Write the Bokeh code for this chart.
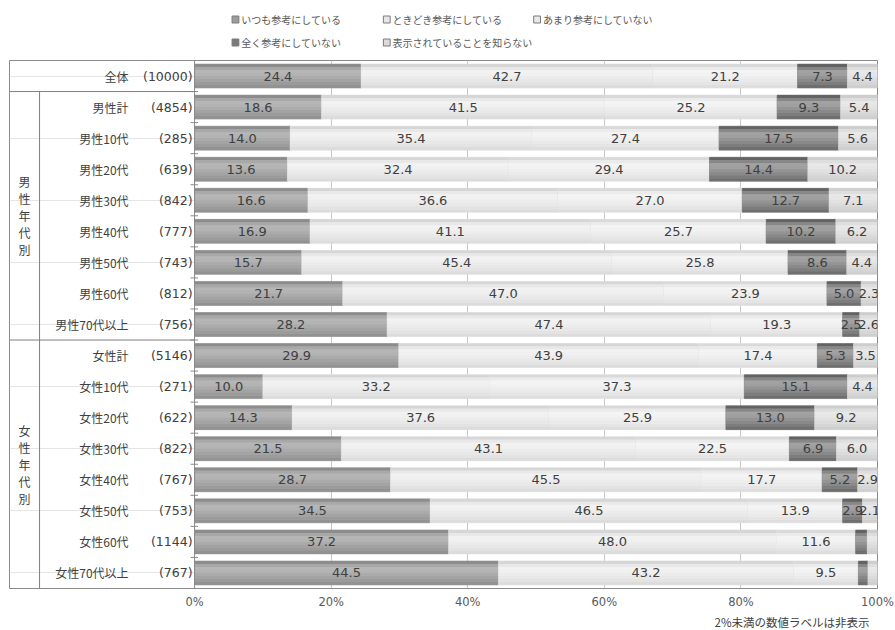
from bokeh.plotting import figure
from bokeh.models import Range1d, FixedTicker, PrintfTickFormatter, Span, Title
from bokeh.layouts import column
from bokeh.core.properties import value
from bokeh.embed import file_html
from bokeh.resources import INLINE

# ---------------- data ----------------
row_labels = ["全体", "男性計", "男性10代", "男性20代", "男性30代", "男性40代", "男性50代", "男性60代", "男性70代以上",
              "女性計", "女性10代", "女性20代", "女性30代", "女性40代", "女性50代", "女性60代", "女性70代以上"]
counts = [10000, 4854, 285, 639, 842, 777, 743, 812, 756,
          5146, 271, 622, 822, 767, 753, 1144, 767]
series_names = ["いつも参考にしている", "ときどき参考にしている", "あまり参考にしていない",
                "全く参考にしていない", "表示されていることを知らない"]
itsumo = [24.4, 18.6, 14.0, 13.6, 16.6, 16.9, 15.7, 21.7, 28.2,
          29.9, 10.0, 14.3, 21.5, 28.7, 34.5, 37.2, 44.5]
tokidoki = [42.7, 41.5, 35.4, 32.4, 36.6, 41.1, 45.4, 47.0, 47.4,
            43.9, 33.2, 37.6, 43.1, 45.5, 46.5, 48.0, 43.2]
amari = [21.2, 25.2, 27.4, 29.4, 27.0, 25.7, 25.8, 23.9, 19.3,
         17.4, 37.3, 25.9, 22.5, 17.7, 13.9, 11.6, 9.5]
mattaku = [7.3, 9.3, 17.5, 14.4, 12.7, 10.2, 8.6, 5.0, 2.5,
           5.3, 15.1, 13.0, 6.9, 5.2, 2.9, 1.7, 1.4]
shiranai = [4.4, 5.4, 5.6, 10.2, 7.1, 6.2, 4.4, 2.3, 2.6,
            3.5, 4.4, 9.2, 6.0, 2.9, 2.1, 1.5, 1.4]
group_labels = ["男性年代別", "女性年代別"]
x_ticks = [0, 20, 40, 60, 80, 100]
note_text = "2%未満の数値ラベルは非表示"
label_threshold = 2.0

series = [itsumo, tokidoki, amari, mattaku, shiranai]

# ---------------- styles ----------------
gradients = [
    ["#8c8c8c", "#a8a8a8", "#b6b6b6", "#b3b3b3", "#ababab", "#a3a3a3", "#9b9b9b", "#929292"],
    ["#d6d6d6", "#e8e8e8", "#f2f2f2", "#f0f0f0", "#ececec", "#e8e8e8", "#e3e3e3", "#dcdcdc"],
    ["#d9d9d9", "#ebebeb", "#f4f4f4", "#f2f2f2", "#eeeeee", "#eaeaea", "#e5e5e5", "#dedede"],
    ["#636363", "#878787", "#a2a2a2", "#9f9f9f", "#949494", "#898989", "#7d7d7d", "#6f6f6f"],
    ["#cdcdcd", "#dedede", "#e8e8e8", "#e6e6e6", "#e1e1e1", "#dbdbdb", "#d5d5d5", "#cfcfcf"],
]
legend_fill = ["#9c9c9c", "#e6e6e6", "#e8e8e8", "#7a7a7a", "#dcdcdc"]
text_col = "#404040"
jp = value("Noto Sans CJK JP")
num = value("DejaVu Sans")

X0 = -27.1   # left edge of table area, in % units
n_rows = len(row_labels)
bar_h = 0.77

# ---------------- legend figure ----------------
leg = figure(width=895, height=58, x_range=Range1d(0, 895), y_range=Range1d(58, 0),
             x_axis_location=None, y_axis_location=None, toolbar_location=None,
             output_backend="svg", min_border=0, outline_line_color=None)
leg.grid.visible = False
leg_x = [233, 389, 544, 233, 389]
leg_y = [19, 19, 19, 42, 42]
leg.rect(x=leg_x, y=leg_y, width=7, height=7, fill_color=legend_fill, line_color="#7a7a7a", line_width=1)
leg.text(x=[v + 6 for v in leg_x], y=leg_y, text=series_names, text_align="left", text_baseline="middle",
         text_font=jp, text_font_size="10px", text_color="#595959")

# ---------------- main figure ----------------
p = figure(frame_width=868, frame_height=528, x_range=Range1d(X0, 100), y_range=Range1d(n_rows - 0.5, -0.5),
           y_axis_location=None, toolbar_location=None, output_backend="svg",
           min_border_left=9, min_border_right=18, min_border_top=2, min_border_bottom=10,
           outline_line_color="#8a8a8a", outline_line_width=1)

p.xaxis.ticker = FixedTicker(ticks=x_ticks)
p.xaxis.formatter = PrintfTickFormatter(format="%d%%")
p.xaxis.axis_line_color = None
p.xaxis.major_tick_line_color = None
p.xaxis.major_tick_out = 0
p.xaxis.major_tick_in = 0
p.xaxis.minor_tick_line_color = None
p.xaxis.minor_tick_out = 0
p.xaxis.major_label_text_font = "DejaVu Sans"
p.xaxis.major_label_text_font_size = "11.5px"
p.xaxis.major_label_text_color = "#595959"
p.xaxis.major_label_standoff = 6
p.xgrid.ticker = FixedTicker(ticks=x_ticks)
p.xgrid.grid_line_color = "#c8c8c8"
p.xgrid.grid_line_width = 1

rows = list(range(n_rows))
left = [0.0] * n_rows
n_strips = len(gradients[0])
strip_h = bar_h / n_strips
lbl_x, lbl_y, lbl_t = [], [], []
for si, vals in enumerate(series):
    right = [l + v for l, v in zip(left, vals)]
    p.hbar(y=rows, left=left, right=right, height=bar_h,
           fill_color=gradients[si][3], line_color=gradients[si][-1], line_width=0.6)
    for k in range(n_strips):
        off = -bar_h / 2 + (k + 0.5) * strip_h
        p.hbar(y=[r + off for r in rows], left=left, right=right, height=strip_h * 1.02,
               fill_color=gradients[si][k], line_color=None)
    for r in rows:
        if vals[r] >= label_threshold:
            lbl_x.append((left[r] + right[r]) / 2)
            lbl_y.append(r)
            lbl_t.append(f"{vals[r]:.1f}")
    left = right

p.text(x=lbl_x, y=lbl_y, text=lbl_t, text_align="center", text_baseline="middle",
       text_font=num, text_font_size="13px", text_color=text_col)

# small category ticks on the left edge of the plot area
bounds = [r + 0.5 for r in rows[:-1]]
p.segment(x0=[-0.6] * len(bounds), y0=bounds, x1=[0.5] * len(bounds), y1=bounds,
          line_color="#8a8a8a", line_width=1)

# ---------------- table on the left ----------------
p.text(x=[-9.66] * n_rows, y=rows, text=row_labels, text_align="right", text_baseline="middle",
       text_font=jp, text_font_size="12px", text_color=text_col)
p.text(x=[-0.3] * n_rows, y=rows, text=[f"({c})" for c in counts], text_align="right", text_baseline="middle",
       text_font=num, text_font_size="12.5px", text_color=text_col)
p.text(x=[-24.9, -24.9], y=[4.5, 12.5], text=["\n".join(g) for g in group_labels],
       text_align="center", text_baseline="middle", text_line_height=1.0,
       text_font=jp, text_font_size="12px", text_color=text_col)
p.segment(x0=[X0, X0, -22.7], y0=[0.5, 8.5, 0.5], x1=[0, 0, -22.7], y1=[0.5, 8.5, n_rows - 0.5],
          line_color="#7f7f7f", line_width=1)
p.add_layout(Span(location=0, dimension="height", line_color="#8a8a8a", line_width=1))

p.add_layout(Title(text=note_text, align="right", text_font="Noto Sans CJK JP", text_font_size="11.5px",
                   text_font_style="normal", text_color=text_col, standoff=0, offset=8), "below")

layout = column(leg, p, spacing=0)
open("out.html", "w").write(file_html(layout, INLINE))
